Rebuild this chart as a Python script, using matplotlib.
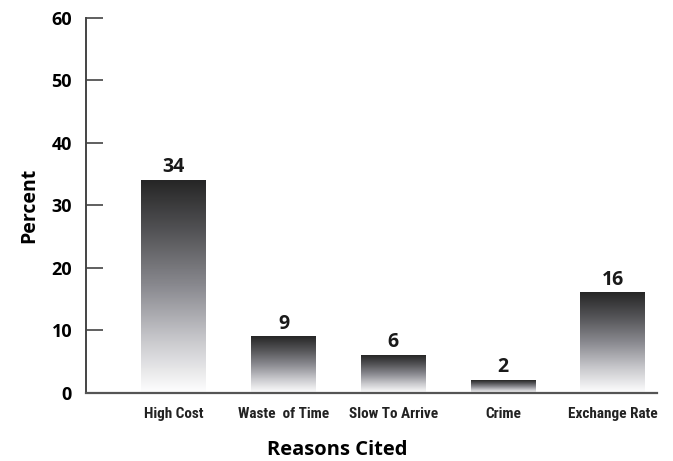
import numpy as np
import matplotlib
matplotlib.use("Agg")
import matplotlib.pyplot as plt
from matplotlib import font_manager

# Datos del grafico
reasons = ["High Cost", "Waste  of Time", "Slow To Arrive", "Crime", "Exchange Rate"]
percent = [34, 9, 6, 2, 16]
y_ticks = [0, 10, 20, 30, 40, 50, 60]

# buscar una fuente estrecha para las etiquetas del eje x
names = {f.name for f in font_manager.fontManager.ttflist}
narrow = None
for cand in ["Liberation Sans Narrow", "DejaVu Sans Condensed", "Roboto Condensed", "Open Sans Condensed"]:
    if cand in names:
        narrow = cand
        break

fig = plt.figure(figsize=(6.73, 4.61), dpi=100)
ax = fig.add_axes([0.1278, 0.1475, 0.848, 0.8135])

# gradiente vertical: oscuro arriba, blanco abajo
grad = np.linspace(0, 1, 256).reshape(-1, 1)
cmap = matplotlib.colors.LinearSegmentedColormap.from_list(
    "g", ["#ffffff", "#c8c8cc", "#8a8a90", "#555558", "#262626"])

width = 0.59
for i, v in enumerate(percent):
    ax.imshow(grad, cmap=cmap, aspect="auto", origin="lower",
              extent=(i - width / 2, i + width / 2, 0, v), zorder=2)
    ax.text(i, v + 0.5, str(v), ha="center", va="bottom",
            fontsize=14, fontweight="bold", family="Open Sans", color="#1a1a1a")

ax.set_xlim(-0.80, 4.40)
ax.set_ylim(0, 60)
ax.set_xticks(range(len(reasons)))
if narrow:
    ax.set_xticklabels(reasons, family=narrow, fontsize=11, fontweight="bold", color="#222222")
else:
    ax.set_xticklabels(reasons, family="DejaVu Sans", fontsize=9, color="#222222")
ax.set_yticks(y_ticks)
ax.set_yticklabels([str(t) for t in y_ticks], family="Open Sans",
                   fontsize=13, fontweight="bold")
ax.tick_params(axis="x", length=0, pad=10)
ax.tick_params(axis="y", direction="in", length=12, width=1.2, color="#444444", pad=10)

for s in ["top", "right"]:
    ax.spines[s].set_visible(False)
ax.spines["left"].set_color("#444444")
ax.spines["left"].set_linewidth(1.4)
ax.spines["bottom"].set_color("#555555")
ax.spines["bottom"].set_linewidth(1.6)

ax.set_ylabel("Percent", family="Open Sans", fontsize=14, fontweight="bold", labelpad=9)
ax.set_xlabel("Reasons Cited", family="Open Sans", fontsize=14.5, fontweight="bold", labelpad=14)
ax.xaxis.set_label_coords(0.44, -0.125)

fig.savefig("out.png", dpi=100)
